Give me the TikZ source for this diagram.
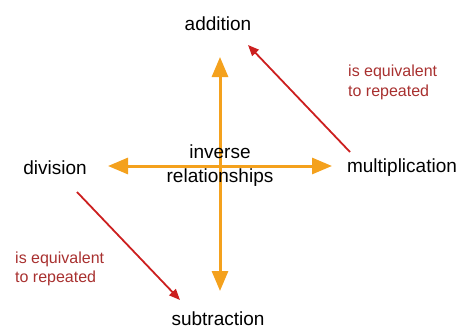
\documentclass[tikz,border=0pt]{standalone}
\usepackage{fontspec}
\setmainfont{Liberation Sans}
\usetikzlibrary{arrows.meta}
\definecolor{org}{HTML}{F4A11D}
\definecolor{arr}{HTML}{CC1F1F}
\definecolor{lbl}{HTML}{A8302F}
\begin{document}
\begin{tikzpicture}[x=1pt,y=-1pt,
  main/.style={font=\fontsize{19}{23}\selectfont, inner sep=0pt, anchor=base},
  lab/.style={font=\fontsize{16}{19.5}\selectfont, text=lbl, inner sep=0pt, anchor=base west},
  inv/.style={draw=org, line width=3pt, {Triangle[length=20pt,width=16pt]}-{Triangle[length=20pt,width=16pt]}},
  rel/.style={draw=arr, line width=1.8pt, -{Triangle[length=11pt,width=9pt]}}]
\useasboundingbox (0,0) rectangle (460,329);
% orange inverse arrows
\coordinate (vt) at (220,57);
\coordinate (vb) at (220,291);
\coordinate (hl) at (108,166);
\coordinate (hr) at (332,166);
\draw[inv] (vt) -- (vb);
\draw[inv] (hl) -- (hr);
% nodes
\node[main] (add) at (218,31) {addition};
\node[main] (mul) at (402,172) {multiplication};
\node[main] (div) at (55,174) {division};
\node[main] (sub) at (218,325) {subtraction};
\node[main] (inv1) at (220,158) {inverse};
\node[main] (inv2) at (220,182) {relationships};
% red arrows
\coordinate (m1) at (350,152);
\coordinate (a1) at (248,45);
\coordinate (d1) at (77,192);
\coordinate (s1) at (180,300);
\draw[rel] (m1) -- (a1);
\draw[rel] (d1) -- (s1);
% labels
\node[lab] (l1a) at (348,77) {is equivalent};
\node[lab] (l1b) at (348,96) {to repeated};
\node[lab] (l2a) at (15,263) {is equivalent};
\node[lab] (l2b) at (15,282) {to repeated};
\end{tikzpicture}
\end{document}
